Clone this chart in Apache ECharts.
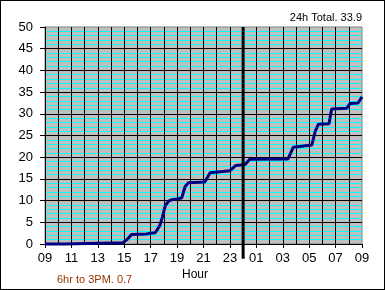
<!DOCTYPE html>
<html>
<head>
<meta charset="utf-8">
<script src="https://cdn.jsdelivr.net/npm/echarts@6/dist/echarts.min.js"></script>
<style>
html,body{margin:0;padding:0;background:#fff;}
#frame{position:absolute;left:0;top:0;width:385px;height:290px;box-sizing:border-box;border:1px solid #000;}
#chart{position:absolute;left:0;top:0;width:385px;height:290px;}
</style>
</head>
<body>
<div id="chart"></div>
<div id="frame"></div>
<script>
// Hours since 09:00 and cumulative rainfall
const hours = [0, 1.45, 1.55, 5.9, 6.2, 6.55, 7.7, 7.95, 8.35, 8.7, 8.9, 9.1, 9.35, 9.6, 10.0, 10.35, 10.6, 10.85, 12.1, 12.5, 14.0, 14.45, 15.15, 15.5, 18.4, 18.8, 20.2, 20.45, 20.7, 21.5, 21.7, 22.85, 23.1, 23.7, 24.0];
const rain  = [0.0, 0.0, 0.3, 0.3, 1.0, 2.2, 2.3, 2.5, 2.6, 4.3, 6.3, 8.8, 9.9, 10.2, 10.4, 10.6, 13.2, 14.1, 14.3, 16.4, 16.9, 18.1, 18.3, 19.5, 19.6, 22.3, 22.8, 25.9, 27.6, 27.7, 31.1, 31.3, 32.4, 32.5, 33.9];
const hourLabels = ['09','11','13','15','17','19','21','23','01','03','05','07','09'];
const midnightHour = 15;
const midnightSpan = [50, -3.4];
const total24h = 33.9;
const toThreePM = 0.7;

const font = 'Liberation Sans, Arial, sans-serif';
const chart = echarts.init(document.getElementById('chart'));
chart.setOption({
  animation: false,
  backgroundColor: '#fff',
  title: [
    {text: '24h Total. ' + total24h, right: 23, top: 12, padding: 0,
     textStyle: {fontFamily: font, fontSize: 11, fontWeight: 'normal', color: '#000'}},
    {text: '6hr to 3PM. ' + toThreePM, left: 57, top: 274, padding: 0,
     textStyle: {fontFamily: font, fontSize: 11, fontWeight: 'normal', color: '#993300'}},
    {text: 'Hour', left: 182, top: 269, padding: 0,
     textStyle: {fontFamily: font, fontSize: 12, fontWeight: 'normal', color: '#000'}}
  ],
  grid: {left: 45, right: 23, top: 27, bottom: 46, show: true,
         backgroundColor: '#c0c0c0', borderColor: '#808080', borderWidth: 1},
  xAxis: {
    type: 'value', min: 0, max: 24, interval: 2, z: 3,
    axisLine: {lineStyle: {color: '#000', width: 1}},
    axisTick: {show: true, length: 4, lineStyle: {color: '#000'}},
    axisLabel: {margin: 8, color: '#000', fontFamily: font, fontSize: 13,
                formatter: v => hourLabels[Math.round(v / 2)]},
    splitLine: {show: true, showMaxLine: false, lineStyle: {color: '#000', width: 1}},
    minorTick: {show: false, splitNumber: 2},
    minorSplitLine: {show: true, lineStyle: {color: '#000', width: 1}}
  },
  yAxis: {
    type: 'value', min: 0, max: 50, interval: 5, z: 2,
    axisLine: {show: true, lineStyle: {color: '#000', width: 1}},
    axisTick: {show: true, length: 5, lineStyle: {color: '#000'}},
    axisLabel: {margin: 12, color: '#000', fontFamily: font, fontSize: 13},
    splitLine: {show: true, showMaxLine: false, lineStyle: {color: '#000', width: 1}},
    minorTick: {show: false, splitNumber: 5},
    minorSplitLine: {show: true, lineStyle: {color: '#00ffff', width: 1}}
  },
  series: [{
    type: 'line', clip: false, z: 5,
    data: hours.map((h, i) => [h, rain[i]]),
    showSymbol: false, symbol: 'none',
    lineStyle: {color: '#000080', width: 3}
  }, {
    type: 'line', clip: false, z: 6, silent: true,
    data: midnightSpan.map(v => [midnightHour, v]),
    showSymbol: false, symbol: 'none',
    lineStyle: {color: '#000', width: 3}
  }]
});
</script>
</body>
</html>
